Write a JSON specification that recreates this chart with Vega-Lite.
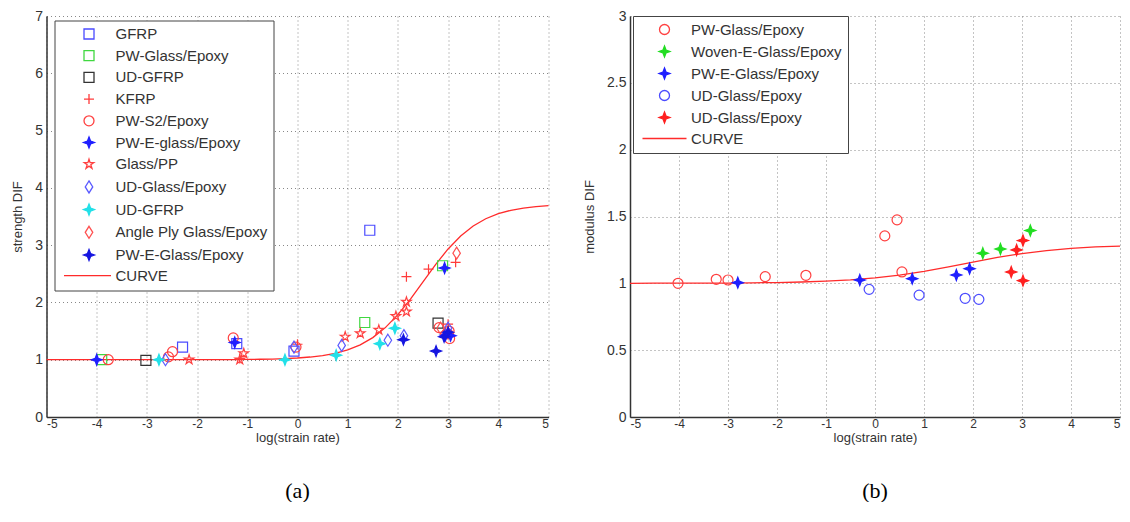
{
  "$schema": "https://vega.github.io/schema/vega-lite/v6.json",
  "background": "white",
  "padding": {"left": 11.5, "top": 9, "right": 0, "bottom": 0},
  "spacing": 31.5,
  "datasets": {
    "curveA": [
      {"x": -5, "y": 1.0}, {"x": -4.5, "y": 1.0}, {"x": -4, "y": 1.0}, {"x": -3.5, "y": 1.0}, {"x": -3, "y": 1.0},
      {"x": -2.5, "y": 1.0}, {"x": -2, "y": 1.0}, {"x": -1.75, "y": 1.001}, {"x": -1.5, "y": 1.002}, {"x": -1.25, "y": 1.003},
      {"x": -1, "y": 1.005}, {"x": -0.75, "y": 1.008}, {"x": -0.5, "y": 1.012}, {"x": -0.25, "y": 1.019}, {"x": 0, "y": 1.03},
      {"x": 0.25, "y": 1.047}, {"x": 0.5, "y": 1.072}, {"x": 0.75, "y": 1.112}, {"x": 1, "y": 1.171}, {"x": 1.25, "y": 1.259},
      {"x": 1.5, "y": 1.386}, {"x": 1.75, "y": 1.56}, {"x": 2, "y": 1.786}, {"x": 2.25, "y": 2.059}, {"x": 2.5, "y": 2.36},
      {"x": 2.75, "y": 2.661}, {"x": 3, "y": 2.934}, {"x": 3.25, "y": 3.16}, {"x": 3.5, "y": 3.334}, {"x": 3.75, "y": 3.461},
      {"x": 4, "y": 3.549}, {"x": 4.25, "y": 3.608}, {"x": 4.5, "y": 3.648}, {"x": 4.75, "y": 3.673}, {"x": 5, "y": 3.69}
    ],
    "curveB": [
      {"x": -5, "y": 1.0}, {"x": -4.5, "y": 1.001}, {"x": -4, "y": 1.001}, {"x": -3.5, "y": 1.001}, {"x": -3, "y": 1.002},
      {"x": -2.5, "y": 1.004}, {"x": -2, "y": 1.006}, {"x": -1.5, "y": 1.01}, {"x": -1, "y": 1.017}, {"x": -0.5, "y": 1.026},
      {"x": 0, "y": 1.041}, {"x": 0.5, "y": 1.062}, {"x": 1, "y": 1.09}, {"x": 1.5, "y": 1.123}, {"x": 2, "y": 1.159},
      {"x": 2.5, "y": 1.194}, {"x": 3, "y": 1.223}, {"x": 3.5, "y": 1.245}, {"x": 4, "y": 1.261}, {"x": 4.5, "y": 1.272}, {"x": 5, "y": 1.279}
    ],
    "pointsA": [
      {"series": "GFRP", "x": -2.29, "y": 1.22}, {"series": "GFRP", "x": -1.21, "y": 1.28}, {"series": "GFRP", "x": -0.07, "y": 1.15}, {"series": "GFRP", "x": 1.44, "y": 3.26},
      {"series": "PW-Glass/Epoxy", "x": -3.9, "y": 1.0}, {"series": "PW-Glass/Epoxy", "x": 1.34, "y": 1.65}, {"series": "PW-Glass/Epoxy", "x": 2.89, "y": 2.64},
      {"series": "UD-GFRP", "x": -3.02, "y": 0.99}, {"series": "UD-GFRP", "x": 2.8, "y": 1.64},
      {"series": "KFRP", "x": -1.15, "y": 1.02}, {"series": "KFRP", "x": 0.0, "y": 1.27}, {"series": "KFRP", "x": 2.17, "y": 2.45}, {"series": "KFRP", "x": 2.61, "y": 2.58}, {"series": "KFRP", "x": 3.15, "y": 2.7}, {"series": "KFRP", "x": 3.0, "y": 1.62},
      {"series": "PW-S2/Epoxy", "x": -3.77, "y": 1.0}, {"series": "PW-S2/Epoxy", "x": -2.57, "y": 1.05}, {"series": "PW-S2/Epoxy", "x": -2.49, "y": 1.14}, {"series": "PW-S2/Epoxy", "x": -1.28, "y": 1.38}, {"series": "PW-S2/Epoxy", "x": -0.03, "y": 1.22}, {"series": "PW-S2/Epoxy", "x": 2.82, "y": 1.56}, {"series": "PW-S2/Epoxy", "x": 3.02, "y": 1.5}, {"series": "PW-S2/Epoxy", "x": 3.03, "y": 1.37}, {"series": "PW-S2/Epoxy", "x": 3.0, "y": 1.45},
      {"series": "PW-E-glass/Epoxy", "x": -4.0, "y": 1.0}, {"series": "PW-E-glass/Epoxy", "x": -1.25, "y": 1.3}, {"series": "PW-E-glass/Epoxy", "x": 2.93, "y": 2.6}, {"series": "PW-E-glass/Epoxy", "x": 2.95, "y": 1.43}, {"series": "PW-E-glass/Epoxy", "x": 3.05, "y": 1.42},
      {"series": "Glass/PP", "x": -2.16, "y": 1.0}, {"series": "Glass/PP", "x": -1.15, "y": 1.0}, {"series": "Glass/PP", "x": -1.07, "y": 1.11}, {"series": "Glass/PP", "x": 0.95, "y": 1.4}, {"series": "Glass/PP", "x": 1.25, "y": 1.46}, {"series": "Glass/PP", "x": 1.62, "y": 1.52}, {"series": "Glass/PP", "x": 1.96, "y": 1.76}, {"series": "Glass/PP", "x": 2.17, "y": 2.01}, {"series": "Glass/PP", "x": 2.17, "y": 1.84},
      {"series": "UD-Glass/Epoxy", "x": -2.63, "y": 1.0}, {"series": "UD-Glass/Epoxy", "x": -0.07, "y": 1.22}, {"series": "UD-Glass/Epoxy", "x": 0.88, "y": 1.25}, {"series": "UD-Glass/Epoxy", "x": 1.8, "y": 1.34}, {"series": "UD-Glass/Epoxy", "x": 2.12, "y": 1.42}, {"series": "UD-Glass/Epoxy", "x": 3.0, "y": 1.55},
      {"series": "UD-GFRP\u200b", "x": -2.76, "y": 1.0}, {"series": "UD-GFRP\u200b", "x": -0.25, "y": 1.0}, {"series": "UD-GFRP\u200b", "x": 0.77, "y": 1.08}, {"series": "UD-GFRP\u200b", "x": 1.64, "y": 1.28}, {"series": "UD-GFRP\u200b", "x": 1.94, "y": 1.55},
      {"series": "Angle Ply Glass/Epoxy", "x": 3.17, "y": 2.86}, {"series": "Angle Ply Glass/Epoxy", "x": 2.85, "y": 1.55},
      {"series": "PW-E-Glass/Epoxy", "x": 2.11, "y": 1.35}, {"series": "PW-E-Glass/Epoxy", "x": 2.76, "y": 1.15}, {"series": "PW-E-Glass/Epoxy", "x": 3.0, "y": 1.48}, {"series": "PW-E-Glass/Epoxy", "x": 2.92, "y": 1.4}
    ],
    "pointsB": [
      {"series": "PW-Glass/Epoxy", "x": -4.02, "y": 1.0}, {"series": "PW-Glass/Epoxy", "x": -3.24, "y": 1.03}, {"series": "PW-Glass/Epoxy", "x": -3.0, "y": 1.025}, {"series": "PW-Glass/Epoxy", "x": -2.24, "y": 1.05}, {"series": "PW-Glass/Epoxy", "x": -1.41, "y": 1.06}, {"series": "PW-Glass/Epoxy", "x": 0.2, "y": 1.355}, {"series": "PW-Glass/Epoxy", "x": 0.45, "y": 1.475}, {"series": "PW-Glass/Epoxy", "x": 0.55, "y": 1.085},
      {"series": "\u00a0Woven-E-Glass/Epoxy", "x": 2.2, "y": 1.225}, {"series": "\u00a0Woven-E-Glass/Epoxy", "x": 2.56, "y": 1.257}, {"series": "\u00a0Woven-E-Glass/Epoxy", "x": 3.17, "y": 1.395},
      {"series": "PW-E-Glass/Epoxy", "x": -2.8, "y": 1.005}, {"series": "PW-E-Glass/Epoxy", "x": -0.31, "y": 1.025}, {"series": "PW-E-Glass/Epoxy", "x": 0.76, "y": 1.035}, {"series": "PW-E-Glass/Epoxy", "x": 1.66, "y": 1.062}, {"series": "PW-E-Glass/Epoxy", "x": 1.93, "y": 1.11},
      {"series": "UD-Glass/Epoxy", "x": -0.12, "y": 0.955}, {"series": "UD-Glass/Epoxy", "x": 0.9, "y": 0.912}, {"series": "UD-Glass/Epoxy", "x": 1.84, "y": 0.888}, {"series": "UD-Glass/Epoxy", "x": 2.12, "y": 0.88},
      {"series": "UD-Glass/Epoxy\u200b", "x": 2.78, "y": 1.085}, {"series": "UD-Glass/Epoxy\u200b", "x": 2.89, "y": 1.25}, {"series": "UD-Glass/Epoxy\u200b", "x": 3.02, "y": 1.32}, {"series": "UD-Glass/Epoxy\u200b", "x": 3.02, "y": 1.02}
    ]
  },
  "resolve": {
    "scale": {"fill": "independent", "stroke": "independent", "shape": "independent"},
    "legend": {"fill": "independent", "stroke": "independent", "shape": "independent"}
  },
  "hconcat": [
    {
      "width": 502,
      "height": 401,
      "title": {"text": "(a)", "orient": "bottom", "anchor": "middle", "font": "Liberation Serif", "fontSize": 22, "fontWeight": "normal", "color": "black", "offset": 37},
      "layer": [
        {
          "data": {"name": "curveA"},
          "mark": {"type": "line", "color": "#ff2b2b", "strokeWidth": 1.3},
          "encoding": {
            "x": {"field": "x", "type": "quantitative", "scale": {"domain": [-5, 5], "nice": false}, "axis": {"title": "log(strain rate)", "values": [-5, -4, -3, -2, -1, 0, 1, 2, 3, 4, 5], "labelExpr": "toString(datum.value)", "labelFontSize": 12, "labelPadding": 1, "titleFontSize": 13, "titlePadding": 2}},
            "y": {"field": "y", "type": "quantitative", "scale": {"domain": [0, 7], "nice": false}, "axis": {"title": "strength DIF", "values": [0, 1, 2, 3, 4, 5, 6, 7], "labelExpr": "toString(datum.value)", "labelFontSize": 14, "labelPadding": 4, "titleFontSize": 13, "titlePadding": 10}}
          }
        },
        {
          "data": {"name": "pointsA"},
          "mark": {"type": "point", "filled": true, "size": 100, "strokeWidth": 1.2, "opacity": 1},
          "encoding": {
            "x": {"field": "x", "type": "quantitative"},
            "y": {"field": "y", "type": "quantitative"},
            "stroke": {
              "field": "series", "type": "nominal",
              "scale": {
                "domain": ["GFRP", "PW-Glass/Epoxy", "UD-GFRP", "KFRP", "PW-S2/Epoxy", "PW-E-glass/Epoxy", "Glass/PP", "UD-Glass/Epoxy", "UD-GFRP\u200b", "Angle Ply Glass/Epoxy", "PW-E-Glass/Epoxy", "CURVE"],
                "range": ["#4b4bff", "#40d840", "#333333", "#ff3b3b", "#ff4040", "#1f1fff", "#ff4040", "#5a5aff", "#22e0e8", "#ff5050", "#1515e0", "#ff2b2b"]
              },
              "legend": {
                "title": null, "orient": "none", "legendX": 8, "legendY": 4.5, "direction": "vertical",
                "padding": 6, "strokeColor": "#444", "fillColor": "white",
                "rowPadding": 4.7, "symbolOffset": 21, "labelOffset": 19, "symbolSize": 100, "symbolStrokeWidth": 1.3,
                "labelFont": "Liberation Sans", "labelFontSize": 15, "labelColor": "#333", "labelLimit": 400
              }
            },
            "fill": {
              "field": "series", "type": "nominal",
              "scale": {
                "domain": ["GFRP", "PW-Glass/Epoxy", "UD-GFRP", "KFRP", "PW-S2/Epoxy", "PW-E-glass/Epoxy", "Glass/PP", "UD-Glass/Epoxy", "UD-GFRP\u200b", "Angle Ply Glass/Epoxy", "PW-E-Glass/Epoxy", "CURVE"],
                "range": ["transparent", "transparent", "transparent", "transparent", "transparent", "#1f1fff", "transparent", "transparent", "#22e0e8", "transparent", "#1515e0", "transparent"]
              }
            },
            "shape": {
              "field": "series", "type": "nominal",
              "scale": {
                "domain": ["GFRP", "PW-Glass/Epoxy", "UD-GFRP", "KFRP", "PW-S2/Epoxy", "PW-E-glass/Epoxy", "Glass/PP", "UD-Glass/Epoxy", "UD-GFRP\u200b", "Angle Ply Glass/Epoxy", "PW-E-Glass/Epoxy", "CURVE"],
                "range": ["square", "square", "square", "M-1,0H1M0,-1V1", "circle", "M0,-1.1L0.3,-0.3L1.1,0L0.3,0.3L0,1.1L-0.3,0.3L-1.1,0L-0.3,-0.3Z", "M0,-1L0.223,-0.307L0.951,-0.309L0.361,0.117L0.588,0.809L0,0.38L-0.588,0.809L-0.361,0.117L-0.951,-0.309L-0.223,-0.307Z", "M0,-1.2L0.75,0L0,1.2L-0.75,0Z", "M0,-1.1L0.3,-0.3L1.1,0L0.3,0.3L0,1.1L-0.3,0.3L-1.1,0L-0.3,-0.3Z", "M0,-1.2L0.75,0L0,1.2L-0.75,0Z", "M0,-1.1L0.3,-0.3L1.1,0L0.3,0.3L0,1.1L-0.3,0.3L-1.1,0L-0.3,-0.3Z", "M-5,0H4.4"]
              }
            }
          }
        }
      ]
    },
    {
      "width": 490,
      "height": 401,
      "title": {"text": "(b)", "orient": "bottom", "anchor": "middle", "font": "Liberation Serif", "fontSize": 22, "fontWeight": "normal", "color": "black", "offset": 37},
      "layer": [
        {
          "data": {"name": "curveB"},
          "mark": {"type": "line", "color": "#ff2b2b", "strokeWidth": 1.3},
          "encoding": {
            "x": {"field": "x", "type": "quantitative", "scale": {"domain": [-5, 5], "nice": false}, "axis": {"title": "log(strain rate)", "values": [-5, -4, -3, -2, -1, 0, 1, 2, 3, 4, 5], "labelExpr": "toString(datum.value)", "labelFontSize": 12, "labelPadding": 1, "titleFontSize": 13, "titlePadding": 2}},
            "y": {"field": "y", "type": "quantitative", "scale": {"domain": [0, 3], "nice": false}, "axis": {"title": "modulus DIF", "values": [0, 0.5, 1, 1.5, 2, 2.5, 3], "labelExpr": "toString(datum.value)", "labelFontSize": 14, "labelPadding": 4, "titleFontSize": 13, "titlePadding": 10}}
          }
        },
        {
          "data": {"name": "pointsB"},
          "mark": {"type": "point", "filled": true, "size": 100, "strokeWidth": 1.2, "opacity": 1},
          "encoding": {
            "x": {"field": "x", "type": "quantitative"},
            "y": {"field": "y", "type": "quantitative"},
            "stroke": {
              "field": "series", "type": "nominal",
              "scale": {
                "domain": ["PW-Glass/Epoxy", "\u00a0Woven-E-Glass/Epoxy", "PW-E-Glass/Epoxy", "UD-Glass/Epoxy", "UD-Glass/Epoxy\u200b", "CURVE"],
                "range": ["#ff4040", "#22dd22", "#1f1fff", "#4b4bff", "#ff2020", "#ff2b2b"]
              },
              "legend": {
                "title": null, "orient": "none", "legendX": 3, "legendY": 0, "direction": "vertical",
                "padding": 6, "strokeColor": "#444", "fillColor": "white",
                "rowPadding": 5, "symbolOffset": 18, "labelOffset": 19, "symbolSize": 100, "symbolStrokeWidth": 1.3,
                "labelFont": "Liberation Sans", "labelFontSize": 15, "labelColor": "#333", "labelLimit": 400
              }
            },
            "fill": {
              "field": "series", "type": "nominal",
              "scale": {
                "domain": ["PW-Glass/Epoxy", "\u00a0Woven-E-Glass/Epoxy", "PW-E-Glass/Epoxy", "UD-Glass/Epoxy", "UD-Glass/Epoxy\u200b", "CURVE"],
                "range": ["transparent", "#22dd22", "#1f1fff", "transparent", "#ff2020", "transparent"]
              }
            },
            "shape": {
              "field": "series", "type": "nominal",
              "scale": {
                "domain": ["PW-Glass/Epoxy", "\u00a0Woven-E-Glass/Epoxy", "PW-E-Glass/Epoxy", "UD-Glass/Epoxy", "UD-Glass/Epoxy\u200b", "CURVE"],
                "range": ["circle", "M0,-1.1L0.3,-0.3L1.1,0L0.3,0.3L0,1.1L-0.3,0.3L-1.1,0L-0.3,-0.3Z", "M0,-1.1L0.3,-0.3L1.1,0L0.3,0.3L0,1.1L-0.3,0.3L-1.1,0L-0.3,-0.3Z", "circle", "M0,-1.1L0.3,-0.3L1.1,0L0.3,0.3L0,1.1L-0.3,0.3L-1.1,0L-0.3,-0.3Z", "M-4.4,0H4.4"]
              }
            }
          }
        }
      ]
    }
  ],
  "config": {
    "view": {"stroke": null},
    "axis": {
      "domainColor": "#333", "domainWidth": 1.5, "grid": true, "gridColor": "#888", "gridDash": [1, 3], "gridWidth": 1,
      "ticks": false, "labelFont": "Liberation Sans", "labelColor": "#333", "titleFont": "Liberation Sans", "titleFontWeight": "normal", "titleColor": "#333"
    },
    "legend": {"symbolSize": 100, "labelFont": "Liberation Sans"}
  }
}
